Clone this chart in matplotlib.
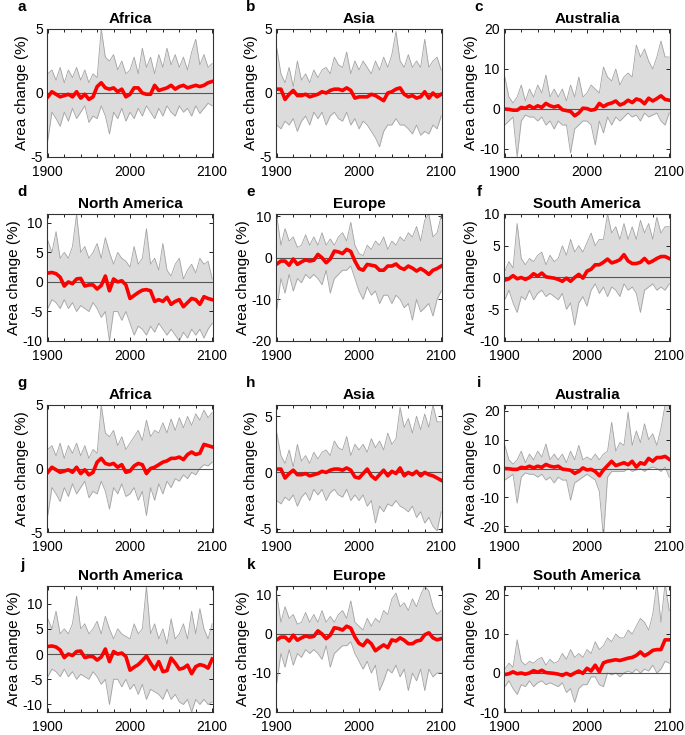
import numpy as np
import matplotlib.pyplot as plt
from matplotlib.ticker import MultipleLocator

plt.rcParams['font.family'] = ['Liberation Sans', 'DejaVu Sans']
plt.rcParams['axes.unicode_minus'] = False

hist_years = np.arange(1900, 2000, 5)
future_years = np.arange(2000, 2101, 5)
years = np.concatenate([hist_years, future_years])

# historical part (1900-1995), shared by both scenarios of a region
africa_hist_mean = [-0.3, 0.1, -0.1, -0.3, -0.2, -0.1, -0.3, 0.1, -0.4, -0.1, -0.5, -0.3, 0.5, 0.8, 0.4, 0.3, 0.4, 0.1, 0.3, -0.3]
africa_hist_upper = [1.5, 1.8, 1.0, 2.0, 0.8, 1.8, 1.2, 2.0, 1.0, 1.8, 0.8, 1.5, 1.2, 5.0, 2.8, 2.5, 3.0, 1.8, 2.5, 1.5]
africa_hist_lower = [-3.7, -1.5, -2.0, -2.6, -1.5, -2.2, -1.2, -2.0, -1.5, -1.0, -2.3, -1.8, -2.0, -1.0, -1.8, -3.2, -1.5, -2.0, -1.2, -2.2]

asia_hist_mean = [0.3, 0.3, -0.5, -0.1, 0.2, -0.2, -0.2, -0.1, -0.3, -0.2, -0.1, 0.1, 0.0, 0.2, 0.3, 0.3, 0.2, 0.4, 0.2, -0.4]
asia_hist_upper = [3.5, 1.5, 0.8, 2.0, 0.5, 2.5, 1.0, 1.5, 0.8, 1.8, 1.2, 1.8, 2.0, 1.5, 2.8, 2.2, 2.0, 3.2, 1.5, 2.5]
asia_hist_lower = [-2.5, -2.8, -2.2, -2.5, -2.0, -3.0, -2.2, -1.8, -2.5, -1.5, -2.0, -1.5, -2.5, -1.8, -1.5, -2.0, -2.2, -1.5, -2.5, -2.0]

aus_hist_mean = [0.0, -0.1, -0.3, -0.3, 0.4, 0.2, 0.8, 0.2, 0.8, 0.4, 1.4, 0.8, 0.5, 0.8, -0.2, -0.4, -0.6, -1.7, -1.0, 0.2]
aus_hist_upper = [8, 3, 1.5, 3, 6, 2, 5, 3, 6, 4, 8.5, 3, 5, 3, 5, 2, 6, 3, 8, 3]
aus_hist_lower = [-4, -3, -2, -12, -3, -1.5, -2, -2, -3, -2, -4, -3, -5, -3, -4, -4, -11, -5, -4, -3]

nam_hist_mean = [1.5, 1.6, 1.4, 0.8, -0.7, 0.0, -0.3, 0.5, 0.6, -0.7, -0.5, -0.5, -1.2, -0.6, 1.0, -1.5, 0.5, 0.0, 0.2, -0.5]
nam_hist_upper = [7, 5, 8.5, 4, 5, 4, 6, 11.5, 5, 6, 4, 5, 6.5, 4, 7.5, 5, 3, 5, 4, 3.5]
nam_hist_lower = [-4.5, -3, -3.5, -4.5, -3, -4.5, -3.5, -5, -4, -4.5, -5, -3.5, -4.5, -6, -5, -10, -5, -5, -6.5, -5]

eur_hist_mean = [-1.5, -0.8, -0.8, -1.8, -0.3, -1.6, -1.0, -0.5, -0.8, -0.6, 0.8, 0.0, -1.2, -0.3, 1.6, 1.4, 1.0, 2.0, 1.5, -0.8]
eur_hist_upper = [10, 3, 7, 4, 5, 2.5, 3, 5.5, 3, 5, 3, 6, 3, 4.5, 3, 5, 6, 4, 8.5, 3]
eur_hist_lower = [-12.5, -5, -8.5, -4, -8, -5, -6, -4, -5, -4, -5, -6.5, -3, -8.5, -5, -4, -3, -3, -2, -5]

sam_hist_mean = [-0.4, -0.2, 0.3, -0.2, 0.0, -0.3, 0.0, 0.6, 0.2, 0.7, 0.1, 0.0, -0.1, -0.3, -0.6, -0.1, -0.6, 0.0, 0.5, -0.1]
sam_hist_upper = [1, 2.5, 1.5, 8.5, 3, 2, 3, 2.5, 3.5, 4, 2, 3.5, 2.5, 3, 5, 3.5, 6, 4, 5, 4]
sam_hist_lower = [-3.5, -2, -4, -5.5, -3, -3.5, -2, -3.5, -2.5, -2, -3, -2.5, -3, -3.5, -2.5, -5, -4, -7.5, -4, -3]

# future part (2000-2100), panels a-f
a_mean = [-0.1, 0.4, 0.4, 0.0, -0.1, -0.1, 0.6, 0.2, 0.3, 0.4, 0.6, 0.3, 0.5, 0.6, 0.4, 0.5, 0.6, 0.5, 0.6, 0.8, 0.9]
a_upper = [1.8, 2.8, 1.5, 3.5, 2.0, 2.8, 1.5, 3.0, 2.0, 3.5, 2.2, 3.0, 2.0, 2.8, 1.8, 3.2, 4.2, 2.2, 3.0, 2.0, 2.3]
a_lower = [-1.5, -2.0, -1.2, -1.8, -1.0, -1.5, -2.0, -1.2, -1.8, -1.0, -1.5, -1.8, -1.0, -1.5, -1.2, -1.8, -1.0, -1.6, -1.2, -0.8, -1.0]

b_mean = [-0.3, -0.3, -0.3, -0.1, -0.2, -0.4, -0.6, 0.0, 0.1, 0.3, 0.4, -0.1, -0.3, -0.2, -0.4, -0.3, 0.1, -0.4, 0.0, -0.3, -0.1]
b_upper = [1.8, 2.5, 2.0, 1.5, 2.5, 1.8, 2.8, 2.0, 3.0, 4.8, 2.5, 2.0, 3.0, 2.0, 2.5, 2.0, 4.2, 2.0, 2.5, 2.8, 1.8]
b_lower = [-2.8, -2.2, -2.5, -3.0, -3.5, -4.2, -3.0, -2.5, -2.5, -2.0, -2.5, -2.5, -2.8, -3.2, -2.5, -3.3, -3.0, -3.2, -2.5, -2.8, -1.8]

c_mean = [0.1, -0.3, -0.1, 1.4, 0.6, 1.2, 1.5, 2.0, 1.0, 1.4, 2.2, 1.6, 2.5, 2.2, 1.3, 2.7, 2.0, 2.6, 3.3, 2.4, 2.2]
c_upper = [4, 6, 5, 4, 10.5, 8, 7, 10, 6, 8, 9, 8, 16, 13, 15, 12, 10, 13, 17, 13, 13]
c_lower = [-3, -4, -9, -3, -6, -2, -4, -2, -3, -2, -1, -2, -1.5, -3, -1, -2, -1.5, -1, -3, -4, -1]

d_mean = [-2.8, -2.3, -1.8, -1.4, -1.3, -1.5, -3.3, -3.0, -3.3, -2.6, -3.8, -3.3, -3.0, -4.2, -3.5, -2.8, -3.0, -3.8, -2.5, -2.8, -3.0]
d_upper = [2.5, 6, 3, 4, 9, 3, 4, 2, 6.5, 2, 1, 3, 4, 0.5, 2, 3, 1.5, 4, 3, 3.5, 0.5]
d_lower = [-7, -9, -7.5, -8, -9, -7.5, -8.5, -7, -8, -9, -8, -9, -10, -8.5, -9.5, -8, -9, -8, -9.5, -8, -7]

e_mean = [-2.6, -3.0, -1.6, -1.8, -2.0, -3.0, -3.0, -2.0, -2.0, -1.5, -2.4, -2.8, -2.0, -2.5, -3.2, -2.6, -3.2, -4.0, -3.0, -2.6, -2.0]
e_upper = [1, 0.5, 3, 2, 4, 3, 5, 2, 4, 3, 5, 4, 6, 5, 7.5, 4, 9, 10.5, 5, 6, 10]
e_lower = [-8, -10, -7, -9, -8, -11, -9, -9, -11, -9, -10, -12, -11, -15, -10, -13, -12, -11, -14, -10, -8]

f_mean = [1.0, 1.3, 2.0, 2.0, 2.4, 2.9, 2.3, 2.5, 2.8, 3.6, 2.6, 2.2, 2.2, 2.4, 3.0, 2.3, 2.6, 3.0, 3.3, 3.3, 3.0]
f_upper = [5.5, 7, 5, 6, 6, 10, 7, 8, 6, 8.5, 6, 8, 6, 9, 7, 8.5, 6, 9.5, 7, 8, 8]
f_lower = [-4.5, -2, -1, -2.5, -1.5, -3, -1.5, -2, -3, -1, -2, -1.5, -2.5, -5.5, -2, -1.5, -1, -2, -1.5, -2, -1]

# future part (2000-2100), panels g-l
g_mean = [-0.2, 0.2, 0.4, 0.3, -0.4, 0.0, 0.1, 0.3, 0.5, 0.6, 0.8, 0.8, 0.9, 0.7, 1.1, 1.3, 1.1, 1.2, 1.9, 1.8, 1.7]
g_upper = [2.0, 2.5, 3.0, 2.2, 3.8, 2.5, 3.0, 2.8, 3.6, 2.8, 3.9, 3.0, 4.0, 3.2, 4.1, 3.4, 4.3, 3.8, 4.6, 4.0, 4.4]
g_lower = [-2.0, -1.5, -2.5, -1.8, -3.7, -1.5, -2.5, -1.2, -2.0, -1.0, -1.5, -0.8, -1.0, -0.5, -0.8, -0.3, -0.5, 0.0, 0.3, 0.2, 0.5]

h_mean = [-0.5, -0.1, 0.3, -0.3, -0.6, -0.2, 0.2, -0.3, 0.1, -0.1, 0.4, -0.3, 0.0, -0.2, 0.1, -0.3, 0.0, -0.2, -0.3, -0.5, -0.7]
h_upper = [2.0, 2.5, 1.8, 3.0, 2.2, 2.8, 2.0, 3.5, 2.5, 3.0, 5.8, 4.0, 4.8, 3.5, 5.0, 3.8, 5.2, 4.0, 6.0, 4.5, 4.5]
h_lower = [-2.5, -2.0, -3.0, -2.5, -4.5, -3.0, -3.5, -2.8, -3.0, -2.5, -3.0, -3.2, -3.5, -3.0, -4.0, -3.5, -4.5, -4.0, -4.8, -5.2, -3.5]

i_mean = [-0.5, -0.3, -1.0, -2.5, -0.5, 1.0, 2.5, 1.0, 1.5, 2.0, 1.3, 2.5, 0.5, 2.0, 1.5, 3.5, 2.5, 3.8, 3.8, 4.2, 3.2]
i_upper = [4, 3, 5, 3, 5, 6, 16, 6, 9, 8, 19.5, 8, 13, 9, 15.5, 10, 12, 8, 14, 22, 22]
i_lower = [-2, -3, -4, -8, -24, -3, -1, -1, -1, -1, 0, -1, -0.5, 0, -1, 0, 0.5, 0, -1, 0.5, -3]

j_mean = [-3.2, -2.6, -2.1, -1.3, -0.4, -1.8, -3.0, -1.5, -3.5, -3.3, -0.8, -1.8, -3.0, -2.8, -2.2, -3.9, -2.5, -2.1, -2.3, -2.8, -1.0]
j_upper = [3, 6, 4, 5, 13.5, 4, 6, 3, 5, 2, 7, 3, 4, 6, 3, 8.5, 4, 9, 5, 3, 6]
j_lower = [-7, -6, -8, -6, -9, -7, -7.5, -8, -9, -7, -9, -8, -9.5, -10, -9, -11.5, -9, -10, -9, -10, -9.5]

k_mean = [-2.4, -3.0, -1.6, -2.5, -4.3, -3.5, -2.8, -3.5, -1.5, -1.8, -1.0, -1.6, -2.5, -2.5, -1.8, -1.6, -0.2, 0.3, -1.0, -1.5, -1.2]
k_upper = [2, 1, 4, 2, 4, 3, 6, 5, 9, 10.5, 7, 8, 6, 9, 7, 10, 12.3, 11, 7, 5, 6]
k_lower = [-7, -9, -7, -10, -8, -14.5, -12, -9, -10, -8, -11, -9, -14.5, -10, -12, -9, -14.5, -9, -11, -10, -10]

l_mean = [1.2, 0.5, 2.0, 0.3, 2.6, 3.0, 3.2, 3.4, 3.2, 3.5, 3.8, 4.0, 4.5, 5.4, 4.4, 5.0, 5.8, 6.0, 6.0, 8.5, 8.5]
l_upper = [6, 5, 8, 6, 7, 9, 8, 10, 9, 9, 11, 10, 12, 14, 13, 11, 15, 23, 13, 23, 16]
l_lower = [-3, -1, -1, -3, -3.5, 0, -0.5, 0, -1, 0, 0.5, 0, 1, 0, 1, 0.5, 2, 0, 1, 3, 2.5]

panels = [
    ('a', 'Africa', africa_hist_mean, africa_hist_upper, africa_hist_lower, a_mean, a_upper, a_lower, (-5, 5), [-5, 0, 5]),
    ('b', 'Asia', asia_hist_mean, asia_hist_upper, asia_hist_lower, b_mean, b_upper, b_lower, (-5, 5), [-5, 0, 5]),
    ('c', 'Australia', aus_hist_mean, aus_hist_upper, aus_hist_lower, c_mean, c_upper, c_lower, (-12, 20), [-10, 0, 10, 20]),
    ('d', 'North America', nam_hist_mean, nam_hist_upper, nam_hist_lower, d_mean, d_upper, d_lower, (-10, 11.5), [-10, -5, 0, 5, 10]),
    ('e', 'Europe', eur_hist_mean, eur_hist_upper, eur_hist_lower, e_mean, e_upper, e_lower, (-20, 10.5), [-20, -10, 0, 10]),
    ('f', 'South America', sam_hist_mean, sam_hist_upper, sam_hist_lower, f_mean, f_upper, f_lower, (-10, 10), [-10, -5, 0, 5, 10]),
    ('g', 'Africa', africa_hist_mean, africa_hist_upper, africa_hist_lower, g_mean, g_upper, g_lower, (-5, 5), [-5, 0, 5]),
    ('h', 'Asia', asia_hist_mean, asia_hist_upper, asia_hist_lower, h_mean, h_upper, h_lower, (-5.3, 6), [-5, 0, 5]),
    ('i', 'Australia', aus_hist_mean, aus_hist_upper, aus_hist_lower, i_mean, i_upper, i_lower, (-22, 22), [-20, -10, 0, 10, 20]),
    ('j', 'North America', nam_hist_mean, nam_hist_upper, nam_hist_lower, j_mean, j_upper, j_lower, (-11.5, 13.5), [-10, -5, 0, 5, 10]),
    ('k', 'Europe', eur_hist_mean, eur_hist_upper, eur_hist_lower, k_mean, k_upper, k_lower, (-20, 12.3), [-20, -10, 0, 10]),
    ('l', 'South America', sam_hist_mean, sam_hist_upper, sam_hist_lower, l_mean, l_upper, l_lower, (-10, 22.3), [-10, 0, 10, 20]),
]

W, H = 685, 735
fig = plt.figure(figsize=(W / 100, H / 100), dpi=100)

col_left = [47, 276, 504]
col_width = 166
rows = [(29, 157), (214, 341), (405, 532), (586, 712)]

for n, (letter, title, hm, hu, hl, fm, fu, fl, ylim, yticks) in enumerate(panels):
    r, c = divmod(n, 3)
    top, bottom = rows[r]
    ax = fig.add_axes([col_left[c] / W, 1 - bottom / H, col_width / W, (bottom - top) / H])

    mean = np.concatenate([hm, fm])
    upper = np.concatenate([hu, fu])
    lower = np.concatenate([hl, fl])

    ax.fill_between(years, lower, upper, color='#dcdcdc', lw=0)
    ax.plot(years, upper, color='#a3a3a3', lw=0.6)
    ax.plot(years, lower, color='#a3a3a3', lw=0.6)
    ax.axhline(0, color='#555555', lw=0.8)
    ax.plot(years, mean, color='#ff0000', lw=2.6)

    ax.set_xlim(1899, 2101)
    ax.set_ylim(*ylim)
    ax.set_xticks([1900, 2000, 2100])
    ax.xaxis.set_minor_locator(MultipleLocator(20))
    ax.set_yticks(yticks)
    ax.tick_params(which='both', direction='in', top=True, right=True, labelsize=10, width=0.6)
    ax.tick_params(which='major', length=3)
    ax.tick_params(which='minor', length=2)
    ax.tick_params(axis='x', pad=5.5)
    ax.tick_params(axis='y', pad=3)
    for s in ax.spines.values():
        s.set_linewidth(0.8)
        s.set_color('#333333')

    ax.set_ylabel('Area change (%)', fontsize=11, labelpad=1)
    ax.set_title(title, fontsize=11, fontweight='bold', pad=4)
    ax.text(-0.15, 1.17, letter, transform=ax.transAxes, fontsize=11,
            fontweight='bold', ha='center', va='center')

fig.savefig('out.png', dpi=100)
